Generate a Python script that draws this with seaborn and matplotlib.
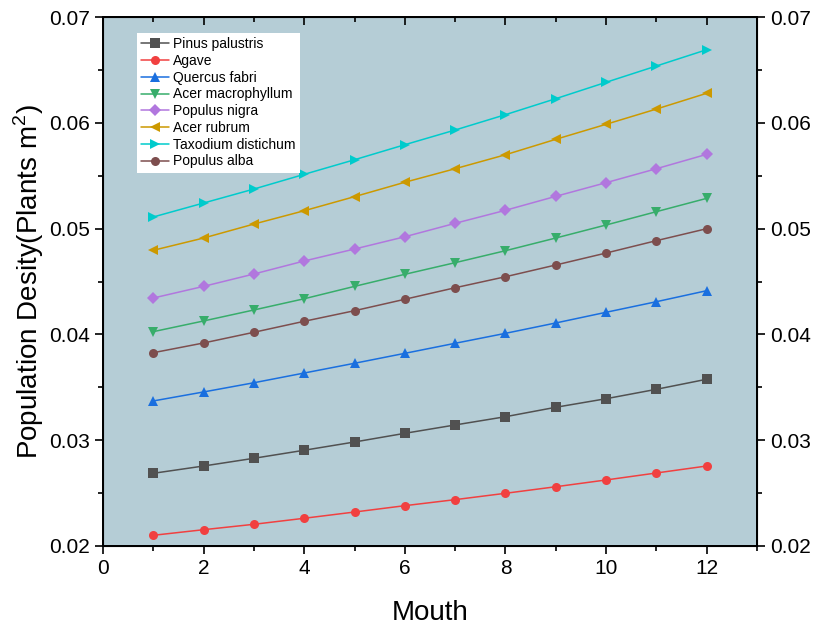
import matplotlib
matplotlib.use('Agg')
import matplotlib.pyplot as plt
from matplotlib.ticker import MultipleLocator, FormatStrFormatter
import seaborn as sns
import pandas as pd

months = list(range(1, 13))

pinus_palustris = [0.02687, 0.02756, 0.02829, 0.02905, 0.02983, 0.03065, 0.03144, 0.03222, 0.03311, 0.03392, 0.03481, 0.03576]
agave = [0.02101, 0.02154, 0.02205, 0.02262, 0.02321, 0.02381, 0.02438, 0.02498, 0.02560, 0.02624, 0.02690, 0.02756]
quercus_fabri = [0.03371, 0.03456, 0.03543, 0.03635, 0.03727, 0.03821, 0.03916, 0.04010, 0.04108, 0.04209, 0.04309, 0.04413]
acer_macrophyllum = [0.04026, 0.04127, 0.04231, 0.04337, 0.04454, 0.04568, 0.04678, 0.04791, 0.04911, 0.05034, 0.05160, 0.05286]
populus_nigra = [0.04344, 0.04454, 0.04571, 0.04694, 0.04807, 0.04923, 0.05050, 0.05173, 0.05305, 0.05434, 0.05566, 0.05702]
acer_rubrum = [0.04795, 0.04911, 0.05043, 0.05169, 0.05302, 0.05438, 0.05566, 0.05698, 0.05844, 0.05986, 0.06130, 0.06279]
taxodium_distichum = [0.05110, 0.05242, 0.05374, 0.05513, 0.05651, 0.05793, 0.05932, 0.06077, 0.06228, 0.06383, 0.06537, 0.06691]
populus_alba = [0.03827, 0.03919, 0.04020, 0.04124, 0.04224, 0.04332, 0.04441, 0.04545, 0.04656, 0.04769, 0.04886, 0.04999]

species = ['Pinus palustris', 'Agave', 'Quercus fabri', 'Acer macrophyllum',
           'Populus nigra', 'Acer rubrum', 'Taxodium distichum', 'Populus alba']
series = [pinus_palustris, agave, quercus_fabri, acer_macrophyllum,
          populus_nigra, acer_rubrum, taxodium_distichum, populus_alba]

colors = ['#515151', '#F14040', '#1A6FDF', '#37AD6B', '#B177DE', '#CC9900', '#00CBCC', '#7D4E4E']
markers = ['s', 'o', '^', 'v', 'D', '<', '>', 'o']

rows = []
for name, vals in zip(species, series):
    for m, v in zip(months, vals):
        rows.append({'Month': m, 'Density': v, 'Species': name})
df = pd.DataFrame(rows)

sns.set_style('ticks', {'axes.edgecolor': 'black', 'text.color': 'black',
                        'xtick.color': 'black', 'ytick.color': 'black',
                        'axes.labelcolor': 'black'})
plt.rcParams['font.family'] = ['Liberation Sans', 'DejaVu Sans']
plt.rcParams['mathtext.fontset'] = 'custom'
plt.rcParams['mathtext.rm'] = 'Liberation Sans'

fig = plt.figure(figsize=(8.15, 6.28), dpi=100)
ax = fig.add_axes([0.1264, 0.1306, 0.8024, 0.8423])
ax.set_facecolor('#B5CDD6')

sns.lineplot(data=df, x='Month', y='Density', hue='Species', style='Species',
             hue_order=species, style_order=species,
             palette=dict(zip(species, colors)),
             markers=dict(zip(species, markers)),
             dashes=False, markersize=6.5, linewidth=1.1,
             markeredgewidth=0, ax=ax)

ax.set_xlim(0, 13)
ax.set_ylim(0.02, 0.07)
ax.xaxis.set_major_locator(MultipleLocator(2))
ax.xaxis.set_minor_locator(MultipleLocator(1))
ax.yaxis.set_major_locator(MultipleLocator(0.01))
ax.yaxis.set_minor_locator(MultipleLocator(0.005))
ax.yaxis.set_major_formatter(FormatStrFormatter('%.2f'))

ax.tick_params(axis='both', which='major', direction='out', length=6, width=1.2, labelsize=15)
ax.tick_params(axis='both', which='minor', direction='out', length=3.5, width=1.2)
for s in ax.spines.values():
    s.set_linewidth(1.3)

ax.set_xlabel('Mouth', fontsize=20, labelpad=16)
ax.set_ylabel('Population Desity(Plants m$^2$)', fontsize=20, labelpad=2)

# right axis mirrors the left one
ax_r = ax.twinx()
ax_r.set_ylim(ax.get_ylim())
ax_r.yaxis.set_major_locator(MultipleLocator(0.01))
ax_r.yaxis.set_minor_locator(MultipleLocator(0.005))
ax_r.yaxis.set_major_formatter(FormatStrFormatter('%.2f'))
ax_r.tick_params(axis='y', which='major', direction='out', length=6, width=1.2, labelsize=15)
ax_r.tick_params(axis='y', which='minor', direction='out', length=3.5, width=1.2)
for s in ax_r.spines.values():
    s.set_linewidth(1.3)

# top axis: inward ticks, no labels
ax_t = ax.twiny()
ax_t.set_xlim(ax.get_xlim())
ax_t.xaxis.set_major_locator(MultipleLocator(2))
ax_t.xaxis.set_minor_locator(MultipleLocator(1))
ax_t.tick_params(axis='x', which='major', direction='in', length=6, width=1.2, labeltop=False)
ax_t.tick_params(axis='x', which='minor', direction='in', length=3.5, width=1.2)

leg = ax.legend(loc='upper left', bbox_to_anchor=(0.052, 0.97), fontsize=10,
                frameon=True, fancybox=False, framealpha=1, borderpad=0.3,
                labelspacing=0.2, handlelength=2.0, handletextpad=0.3,
                borderaxespad=0)
leg.get_frame().set_edgecolor('white')
leg.get_frame().set_linewidth(0)
leg.set_title(None)

fig.savefig('out.png', dpi=100)
